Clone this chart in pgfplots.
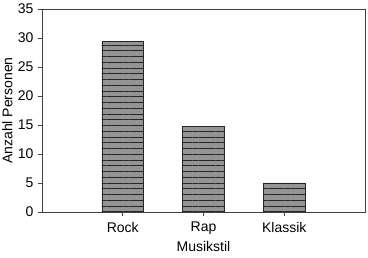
\documentclass[border=0pt]{standalone}
\usepackage{pgfplots}
\pgfplotsset{compat=1.18}
\usepackage{fontspec}
\setmainfont{Liberation Sans}
\usetikzlibrary{patterns.meta}
\begin{document}
\begin{tikzpicture}
\begin{axis}[
  scale only axis,
  width=323bp, height=203bp,
  xmin=-1, xmax=3, ymin=0, ymax=35,
  xtick=data, xticklabels={Rock,Rap,Klassik},
  ytick={0,5,...,35},
  tick align=outside, tick pos=left,
  major tick length=4bp,
  axis line style={draw=black!75, line width=0.9bp},
  every tick/.style={draw=black!75, line width=0.8bp},
  /pgf/number format/assume math mode=true,
  tick label style={font=\fontsize{14bp}{16bp}\selectfont},
  label style={font=\fontsize{14bp}{16bp}\selectfont},
  xlabel={Musikstil}, ylabel={Anzahl Personen},
  ylabel style={at={(axis description cs:0,0.5)}, anchor=south, yshift=26bp},
  xlabel style={at={(axis description cs:0.5,0)}, anchor=north, yshift=-26bp},
  xticklabel style={yshift=-2.5bp},
  yticklabel style={xshift=-1bp},
]
\addplot[ybar, bar width=0.515, draw=black!85, line width=0.9bp, fill=black!42,
  postaction={pattern={Lines[angle=0, distance=5.75bp, line width=1bp]}, pattern color=black!85}]
  coordinates {(0,29.4) (1,14.7) (2,5)};
\end{axis}
\pgfresetboundingbox
\path (current axis.south west) ++(-42bp,-46bp) coordinate (bl);
\path (current axis.north east) ++(3bp,9bp) coordinate (tr);
\path[use as bounding box] (bl) rectangle (tr);
\end{tikzpicture}
\end{document}
